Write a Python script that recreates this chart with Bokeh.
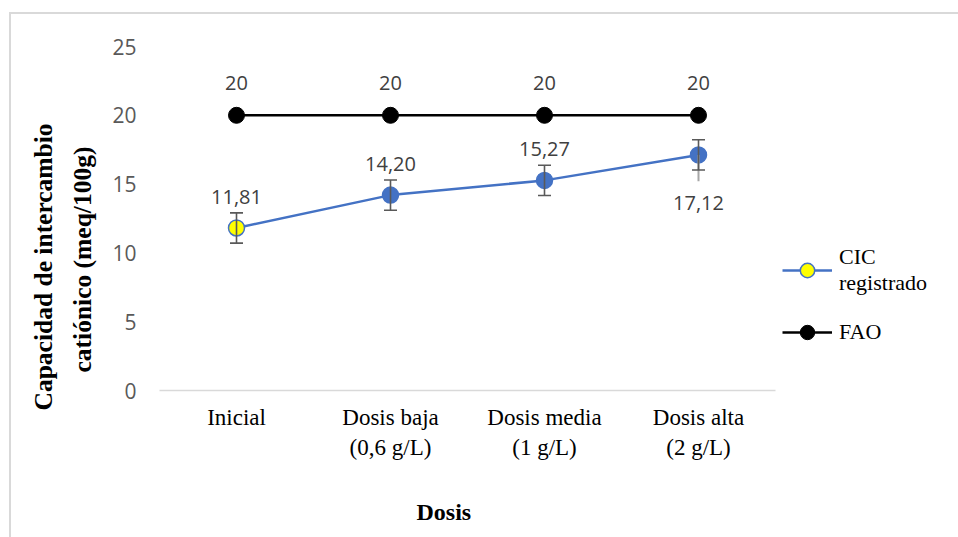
from bokeh.plotting import figure
from bokeh.models import (ColumnDataSource, Range1d, FixedTicker, Whisker, TeeHead,
                          LabelSet, Title, Legend, LegendItem)
from bokeh.core.properties import value
from bokeh.embed import file_html
from bokeh.resources import INLINE

# ---- data ----
categories = ["Inicial", "Dosis baja\n(0,6 g/L)", "Dosis media\n(1 g/L)", "Dosis alta\n(2 g/L)"]
cic_values = [11.81, 14.20, 15.27, 17.12]
cic_labels = ["11,81", "14,20", "15,27", "17,12"]
cic_err = [1.1, 1.1, 1.1, 1.1]
cic_err_low_extra = [0.0, 0.0, 0.0, 1.92]
fao_values = [20, 20, 20, 20]
fao_labels = ["20", "20", "20", "20"]
y_ticks = [0, 5, 10, 15, 20, 25]

xs = list(range(1, len(categories) + 1))

# ---- styling ----
BLUE = "#4472C4"
SANS = "Open Sans"
SERIF = "Liberation Serif"
cic_label_dy = [31, 31, 31, -48]
cic_fill = ["#FFFF00", BLUE, BLUE, BLUE]

p = figure(output_backend="svg", toolbar_location=None,
           frame_width=616, frame_height=344,
           min_border_left=148, min_border_top=32, min_border_right=175, min_border_bottom=138,
           x_range=Range1d(0.5, len(categories) + 0.5), y_range=Range1d(0, 25))
p.styles = {"border-top": "2px solid #d9d9d9", "border-left": "2px solid #d9d9d9",
            "margin-top": "12px", "margin-left": "9px"}
p.outline_line_color = None
p.grid.grid_line_color = None
p.background_fill_color = "white"
p.border_fill_color = "white"

# axes
p.yaxis.ticker = FixedTicker(ticks=y_ticks)
p.yaxis.axis_line_color = None
p.yaxis.major_tick_line_color = None
p.yaxis.minor_tick_line_color = None
p.yaxis.major_label_text_font = SANS
p.yaxis.major_label_text_font_size = "21px"
p.yaxis.major_label_text_color = "#595959"
p.yaxis.major_label_standoff = 17

p.xaxis.ticker = FixedTicker(ticks=xs)
p.xaxis.major_label_overrides = {x: c for x, c in zip(xs, categories)}
p.xaxis.axis_line_color = "#d9d9d9"
p.xaxis.axis_line_width = 1.5
p.xaxis.major_tick_line_color = None
p.xaxis.minor_tick_line_color = None
p.xaxis.major_label_text_font = SERIF
p.xaxis.major_label_text_font_size = "23px"
p.xaxis.major_label_text_color = "black"
p.xaxis.major_label_standoff = 8

cic_src = ColumnDataSource(dict(
    x=xs, y=cic_values, label=cic_labels, fill=cic_fill, dy=cic_label_dy,
    upper=[v + e for v, e in zip(cic_values, cic_err)],
    lower=[v - e for v, e in zip(cic_values, cic_err)],
    low2=[v - e for v, e in zip(cic_values, cic_err_low_extra)],
))
fao_src = ColumnDataSource(dict(x=xs, y=fao_values, label=fao_labels))

# FAO series
fao_line = p.line("x", "y", source=fao_src, line_color="black", line_width=2.5)
fao_pts = p.scatter("x", "y", source=fao_src, size=16, fill_color="black", line_color="black")

# CIC series
cic_line = p.line("x", "y", source=cic_src, line_color=BLUE, line_width=2.5)
wh = Whisker(base="x", upper="upper", lower="lower", source=cic_src, level="glyph",
             line_color="#595959", line_width=1.6,
             upper_head=TeeHead(size=13, line_color="#595959", line_width=1.6),
             lower_head=TeeHead(size=13, line_color="#595959", line_width=1.6))
p.add_layout(wh)
cic_pts = p.scatter("x", "y", source=cic_src, size=16, fill_color="fill", line_color=BLUE,
                    line_width=1.5)
p.segment(x0="x", y0="y", x1="x", y1="low2", source=cic_src, line_color="#a6a6a6", line_width=2)

# data labels
p.add_layout(LabelSet(x="x", y="y", text="label", source=cic_src, y_offset="dy",
                      text_align="center", text_baseline="middle",
                      text_font=value(SANS), text_font_size="20px", text_color="#404040"))
p.add_layout(LabelSet(x="x", y="y", text="label", source=fao_src, y_offset=32,
                      text_align="center", text_baseline="middle",
                      text_font=value(SANS), text_font_size="20px", text_color="#404040"))

# axis titles (second line is nearest the axis)
p.add_layout(Title(text="catiónico (meq/100g)", align="left", offset=18, standoff=26,
                   text_font=SERIF, text_font_style="bold",
                   text_font_size="25.5px", text_color="black"), "left")
p.add_layout(Title(text="Capacidad de intercambio", align="left", offset=-20, standoff=-11,
                   text_font=SERIF, text_font_style="bold",
                   text_font_size="25.5px", text_color="black"), "left")
p.add_layout(Title(text="Dosis", align="left", offset=257, standoff=69,
                   text_font=SERIF, text_font_style="bold",
                   text_font_size="24px", text_color="black"), "below")

# legend
legend = Legend(items=[LegendItem(label="CIC\nregistrado", renderers=[cic_line, cic_pts]),
                       LegendItem(label="FAO", renderers=[fao_line, fao_pts])],
                location=(7, 40), orientation="vertical",
                border_line_color=None, background_fill_alpha=0,
                glyph_width=50, glyph_height=36, label_standoff=7, spacing=18,
                padding=0, margin=8,
                label_text_font=SERIF, label_text_font_size="22px", label_text_color="black")
p.add_layout(legend, "right")

open("out.html", "w").write(file_html(p, INLINE))
